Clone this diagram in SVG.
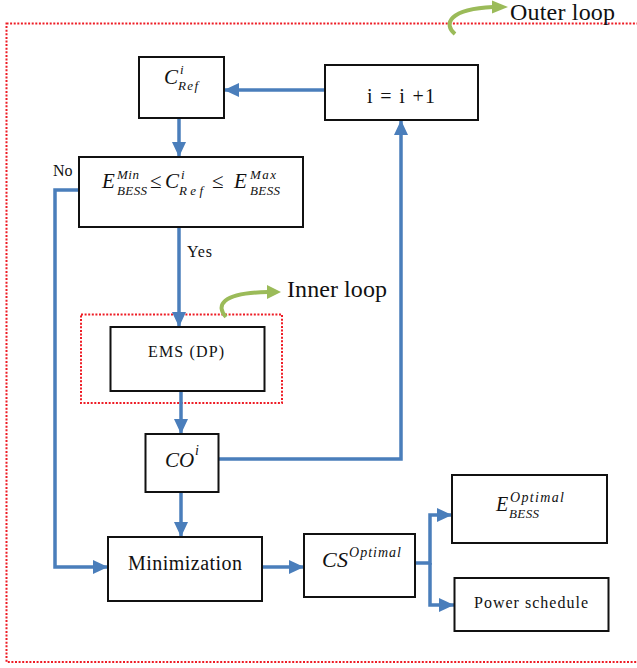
<svg xmlns="http://www.w3.org/2000/svg" width="637" height="668" viewBox="0 0 637 668">
<style>
.box{fill:#fff;stroke:#111;stroke-width:2}
.dot{fill:none;stroke:#ee1c25;stroke-width:2;stroke-dasharray:2 1.6}
.conn{fill:none;stroke:#4a7ebb;stroke-width:3.5}
.green{fill:none;stroke:#9bbb59;stroke-width:4}
text{font-family:'Liberation Serif','Times New Roman',serif;fill:#111}
.m{font-style:italic}
</style>
<defs>
<marker id="ah" viewBox="0 0 15 14" refX="15" refY="7" markerWidth="15" markerHeight="14" markerUnits="userSpaceOnUse" orient="auto">
<path d="M0,0 L15,7 L0,14 z" fill="#4a7ebb"/>
</marker>
</defs>
<rect width="637" height="668" fill="#fff"/>
<g id="outer-loop">
<rect class="dot" x="6.5" y="23.5" width="640" height="638.5"/>
<path class="green" d="M455,34 C443,24 449,9 493,7"/>
<polygon points="492,0.5 508,7 492,13.5" fill="#9bbb59"/>
<text x="510" y="20" font-size="24" textLength="105">Outer loop</text>
</g>
<g id="inner-loop">
<rect class="dot" x="81" y="314.5" width="201" height="88.5"/>
<path class="green" d="M226,317 C216,306 220,293 268,292"/>
<polygon points="267,285 281,292 267,299" fill="#9bbb59"/>
<text x="287" y="297" font-size="24" textLength="100">Inner loop</text>
</g>
<g id="connectors">
<path class="conn" d="M325,90 H224" marker-end="url(#ah)"/>
<path class="conn" d="M179,118 V157" marker-end="url(#ah)"/>
<path class="conn" d="M179,227 V327" marker-end="url(#ah)"/>
<path class="conn" d="M181,391 V434" marker-end="url(#ah)"/>
<path class="conn" d="M181,492 V537" marker-end="url(#ah)"/>
<path class="conn" d="M80,190 H55 V567 H108" marker-end="url(#ah)"/>
<path class="conn" d="M218,459 H401 V120" marker-end="url(#ah)"/>
<path class="conn" d="M262,567 H304" marker-end="url(#ah)"/>
<path class="conn" d="M415,563 H430 V515 H452" marker-end="url(#ah)"/>
<path class="conn" d="M430,563 V605 H454" marker-end="url(#ah)"/>
<text x="53" y="176" font-size="16">No</text>
<text x="187" y="257" font-size="16" textLength="25">Yes</text>
</g>
<g id="cref">
<rect class="box" x="139" y="57" width="85" height="61"/>
<text class="m" x="164" y="84" font-size="21">C</text>
<text class="m" x="180" y="74" font-size="13">i</text>
<text class="m" x="178" y="90" font-size="13" textLength="20">Ref</text>
</g>
<g id="inc">
<rect class="box" x="325" y="65" width="153" height="55"/>
<text x="367" y="103" font-size="20" textLength="68">i = i +1</text>
</g>
<g id="cond">
<rect class="box" x="79" y="157" width="224" height="70"/>
<text class="m" x="102" y="188" font-size="21">E</text>
<text class="m" x="117" y="179" font-size="13" textLength="22">Min</text>
<text class="m" x="117" y="195" font-size="13" textLength="30">BESS</text>
<text x="150" y="188" font-size="21">≤</text>
<text class="m" x="165" y="188" font-size="21">C</text>
<text class="m" x="181" y="179" font-size="13">i</text>
<text class="m" x="179" y="195" font-size="13" textLength="24">Ref</text>
<text x="212" y="188" font-size="21">≤</text>
<text class="m" x="234" y="188" font-size="21">E</text>
<text class="m" x="250" y="179" font-size="13" textLength="26">Max</text>
<text class="m" x="250" y="195" font-size="13" textLength="30">BESS</text>
</g>
<g id="ems">
<rect class="box" x="110.5" y="327" width="154" height="64"/>
<text x="148" y="357" font-size="16" textLength="76">EMS (DP)</text>
</g>
<g id="co">
<rect class="box" x="145.5" y="434" width="73" height="58"/>
<text class="m" x="165" y="467" font-size="21">CO</text>
<text class="m" x="195" y="455" font-size="14">i</text>
</g>
<g id="min">
<rect class="box" x="108" y="537" width="154" height="64"/>
<text x="128" y="570" font-size="20" textLength="114">Minimization</text>
</g>
<g id="cs">
<rect class="box" x="304" y="534" width="111" height="63"/>
<text class="m" x="322" y="567" font-size="22" textLength="26">CS</text>
<text class="m" x="349" y="557" font-size="14" textLength="52">Optimal</text>
</g>
<g id="ebess">
<rect class="box" x="452" y="475" width="155" height="68"/>
<text class="m" x="496" y="511" font-size="20">E</text>
<text class="m" x="510" y="502" font-size="14" textLength="54">Optimal</text>
<text class="m" x="509" y="518" font-size="13" textLength="30">BESS</text>
</g>
<g id="power">
<rect class="box" x="454.5" y="578" width="154" height="53"/>
<text x="474" y="608" font-size="16" textLength="114">Power schedule</text>
</g>
</svg>
